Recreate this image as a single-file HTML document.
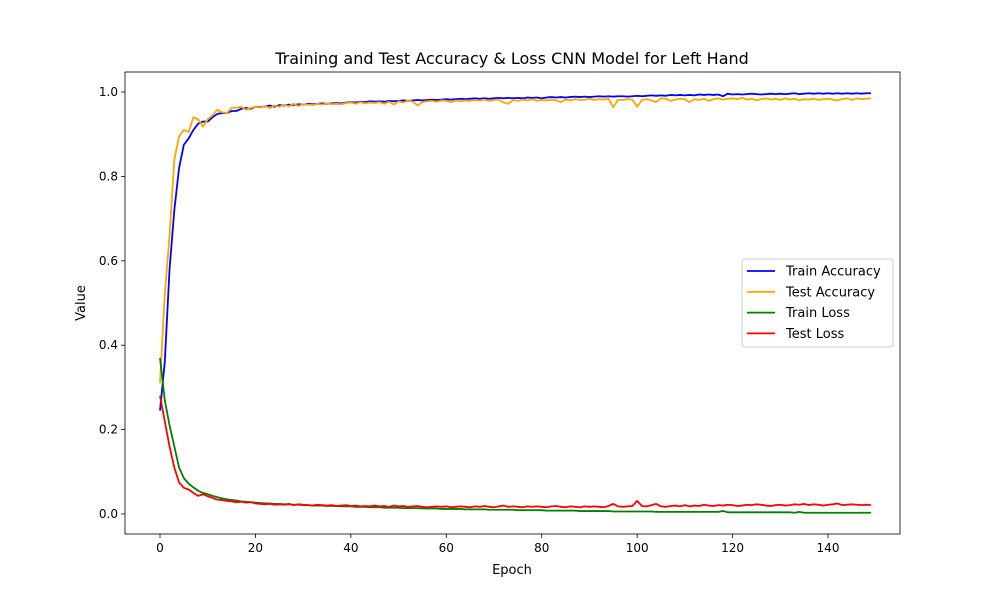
<!DOCTYPE html>
<html><head><meta charset="utf-8"><style>
body{margin:0;background:#fff;font-family:"Liberation Sans","DejaVu Sans",sans-serif}
svg text{font-family:"DejaVu Sans","Liberation Sans",sans-serif}
</style></head><body>
<svg id="chart" width="1000" height="600" xmlns="http://www.w3.org/2000/svg"></svg>
<script>
const trainAcc=[0.245,0.36,0.58,0.72,0.82,0.875,0.89,0.91,0.925,0.93,0.93,0.94,0.948,0.95,0.95,0.955,0.955,0.96,0.962,0.96,
0.965,0.964,0.966,0.968,0.965,0.969,0.968,0.97,0.969,0.971,0.97,0.972,0.971,0.972,0.973,0.972,0.973,0.974,0.973,0.975,
0.976,0.975,0.977,0.976,0.978,0.977,0.978,0.977,0.979,0.978,0.979,0.98,0.979,0.98,0.981,0.98,0.981,0.982,0.981,0.982,
0.983,0.982,0.983,0.984,0.983,0.984,0.985,0.984,0.985,0.984,0.985,0.986,0.985,0.986,0.985,0.986,0.985,0.987,0.986,0.987,
0.985,0.987,0.988,0.987,0.988,0.987,0.988,0.989,0.988,0.989,0.988,0.989,0.99,0.989,0.99,0.989,0.99,0.99,0.989,0.99,
0.991,0.99,0.991,0.992,0.991,0.992,0.991,0.993,0.992,0.993,0.992,0.993,0.992,0.994,0.993,0.994,0.993,0.994,0.99,0.996,
0.994,0.995,0.994,0.995,0.996,0.995,0.994,0.995,0.996,0.995,0.996,0.995,0.996,0.997,0.995,0.996,0.997,0.996,0.997,0.996,
0.997,0.996,0.997,0.996,0.997,0.996,0.997,0.996,0.997,0.997];
const testAcc=[0.31,0.52,0.66,0.84,0.895,0.91,0.905,0.94,0.935,0.918,0.935,0.945,0.958,0.952,0.95,0.962,0.963,0.965,0.958,0.962,
0.965,0.963,0.967,0.962,0.968,0.965,0.97,0.966,0.972,0.967,0.971,0.97,0.969,0.972,0.97,0.973,0.971,0.972,0.971,0.974,
0.975,0.972,0.976,0.973,0.975,0.974,0.976,0.972,0.977,0.97,0.978,0.975,0.98,0.977,0.968,0.976,0.978,0.979,0.977,0.98,
0.979,0.976,0.98,0.978,0.98,0.979,0.981,0.98,0.982,0.979,0.981,0.982,0.975,0.972,0.981,0.979,0.982,0.98,0.983,0.979,
0.981,0.98,0.982,0.98,0.976,0.982,0.98,0.983,0.981,0.982,0.984,0.981,0.983,0.982,0.984,0.964,0.982,0.981,0.983,0.982,
0.965,0.981,0.983,0.98,0.976,0.985,0.984,0.979,0.982,0.984,0.983,0.976,0.983,0.981,0.984,0.979,0.983,0.985,0.982,0.984,
0.985,0.983,0.986,0.982,0.984,0.98,0.983,0.985,0.982,0.984,0.981,0.985,0.982,0.984,0.98,0.983,0.982,0.984,0.981,0.983,
0.984,0.982,0.98,0.983,0.985,0.981,0.985,0.983,0.984,0.985];
const trainLoss=[0.37,0.27,0.21,0.16,0.11,0.085,0.072,0.063,0.055,0.05,0.047,0.043,0.04,0.037,0.035,0.033,0.032,0.03,0.029,0.028,
0.027,0.026,0.025,0.025,0.024,0.024,0.023,0.023,0.022,0.022,0.021,0.021,0.02,0.02,0.02,0.019,0.019,0.019,0.018,0.018,
0.018,0.017,0.017,0.017,0.016,0.016,0.016,0.015,0.015,0.015,0.015,0.014,0.014,0.014,0.014,0.013,0.013,0.013,0.013,0.012,
0.012,0.012,0.012,0.012,0.011,0.011,0.011,0.011,0.011,0.01,0.01,0.01,0.01,0.01,0.01,0.009,0.009,0.009,0.009,0.009,
0.009,0.008,0.008,0.008,0.008,0.008,0.008,0.008,0.007,0.007,0.007,0.007,0.007,0.007,0.007,0.006,0.006,0.006,0.006,0.006,
0.006,0.006,0.006,0.006,0.005,0.005,0.005,0.005,0.005,0.005,0.005,0.005,0.005,0.005,0.005,0.005,0.005,0.005,0.007,0.004,
0.004,0.004,0.004,0.004,0.004,0.004,0.004,0.004,0.004,0.004,0.004,0.004,0.004,0.003,0.005,0.003,0.003,0.003,0.003,0.003,
0.003,0.003,0.003,0.003,0.003,0.003,0.003,0.003,0.003,0.003];
const testLoss=[0.28,0.22,0.16,0.11,0.075,0.062,0.058,0.05,0.043,0.047,0.042,0.038,0.034,0.033,0.031,0.03,0.028,0.029,0.027,0.028,
0.025,0.024,0.023,0.024,0.022,0.023,0.022,0.024,0.021,0.023,0.022,0.021,0.02,0.022,0.021,0.02,0.021,0.019,0.02,0.021,
0.019,0.02,0.018,0.019,0.018,0.02,0.018,0.019,0.017,0.02,0.018,0.019,0.017,0.018,0.019,0.017,0.016,0.017,0.018,0.017,
0.018,0.016,0.017,0.018,0.017,0.016,0.018,0.017,0.019,0.017,0.016,0.018,0.02,0.017,0.018,0.017,0.016,0.018,0.017,0.018,
0.017,0.016,0.018,0.019,0.017,0.016,0.018,0.017,0.016,0.018,0.017,0.018,0.017,0.016,0.019,0.024,0.018,0.017,0.018,0.019,
0.031,0.019,0.018,0.021,0.024,0.018,0.017,0.019,0.02,0.018,0.021,0.018,0.02,0.019,0.022,0.02,0.019,0.021,0.02,0.022,
0.021,0.019,0.02,0.022,0.021,0.023,0.022,0.02,0.019,0.021,0.022,0.02,0.021,0.023,0.022,0.024,0.021,0.023,0.022,0.02,
0.022,0.023,0.025,0.021,0.022,0.023,0.022,0.021,0.022,0.021];
const xTicks=[0,20,40,60,80,100,120,140];
const yTicks=[0.0,0.2,0.4,0.6,0.8,1.0];
const series=[["Train Accuracy","#0000ff",trainAcc],["Test Accuracy","#ffa500",testAcc],["Train Loss","#008000",trainLoss],["Test Loss","#ff0000",testLoss]];

const NS="http://www.w3.org/2000/svg",svg=document.getElementById('chart');
const X0=125,X1=900,Y0=72,Y1=534;
const xs=v=>160+v*(828-160)/140;
const ys=v=>514-v*(514-92)/1.0;
function mk(t,a,p){const e=document.createElementNS(NS,t);for(const k in a)e.setAttribute(k,a[k]);(p||svg).appendChild(e);return e;}
const title=mk('text',{x:512,y:64,'text-anchor':'middle','font-size':16,fill:'#000'});title.textContent='Training and Test Accuracy & Loss CNN Model for Left Hand';


xTicks.forEach(t=>{const x=xs(t);mk('line',{x1:x,x2:x,y1:Y1,y2:Y1+4,stroke:'#000','stroke-width':0.8});
const tx=mk('text',{x:x,y:Y1+18,'text-anchor':'middle','font-size':12});tx.textContent=t;

});
yTicks.forEach(t=>{const y=ys(t);mk('line',{x1:X0-4,x2:X0,y1:y,y2:y,stroke:'#000','stroke-width':0.8});
const tx=mk('text',{x:X0-7,y:y+4,'text-anchor':'end','font-size':12});tx.textContent=t.toFixed(1);

});
const xl=mk('text',{x:512,y:574,'text-anchor':'middle','font-size':13});xl.textContent='Epoch';


const yl=mk('text',{x:85,y:303,'text-anchor':'middle','font-size':13,transform:'rotate(-90 85 303)'});yl.textContent='Value';


series.forEach(([n,c,d])=>{const p=mk('polyline',{points:d.map((v,i)=>xs(i)+','+ys(v)).join(' '),fill:'none',stroke:c,'stroke-width':1.8,'stroke-linejoin':'round'});

});
mk('rect',{x:X0,y:Y0,width:X1-X0,height:Y1-Y0,fill:'none',stroke:'#000','stroke-width':0.8});
const lg=mk('g',{});


mk('rect',{x:742,y:259,width:151,height:88,fill:'#fff',stroke:'#ccc',rx:3},lg);
series.forEach(([n,c],i)=>{const y=271+i*20.8;mk('line',{x1:747,x2:775,y1:y,y2:y,stroke:c,'stroke-width':1.8},lg);
const t=mk('text',{x:786,y:y+4.5,'font-size':13},lg);t.textContent=n;

});
</script>
</body></html>
